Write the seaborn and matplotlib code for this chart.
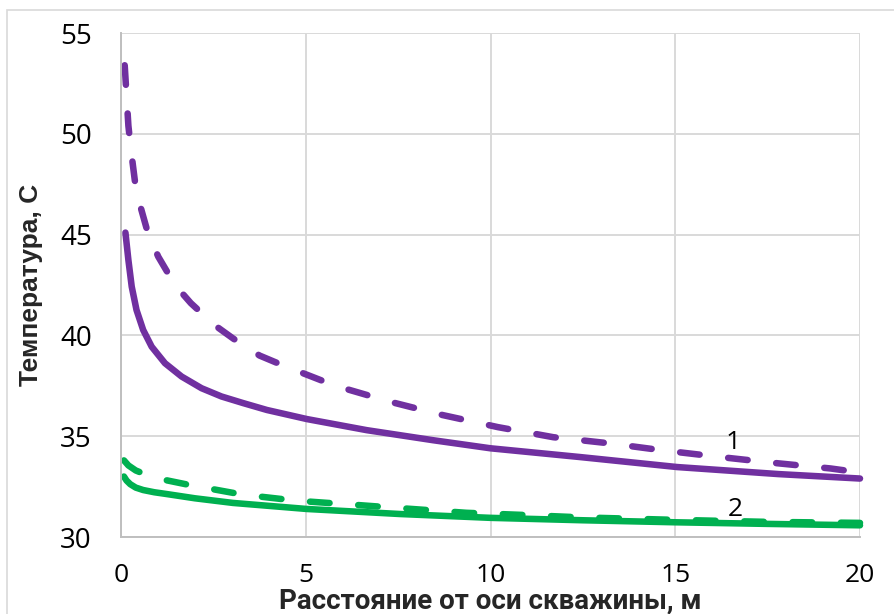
import numpy as np
import pandas as pd
import matplotlib
matplotlib.use('Agg')
import matplotlib.pyplot as plt
import seaborn as sns
from matplotlib import font_manager
from matplotlib.patches import Rectangle

# кривая 1 (фиолетовая), сплошная
x1_solid = [0.12, 0.2, 0.29, 0.42, 0.6, 0.83, 1.19, 1.64, 2.18, 2.72, 3.31, 3.95, 5.03, 6.65, 8.45, 10.0, 12.4, 15.05, 17.8, 20.0]
y1_solid = [45.1, 43.74, 42.42, 41.26, 40.27, 39.44, 38.62, 37.96, 37.38, 36.97, 36.64, 36.3, 35.85, 35.3, 34.8, 34.4, 33.97, 33.47, 33.12, 32.9]

# кривая 1, пунктир
x1_dash = [0.1, 0.15, 0.2, 0.27, 0.38, 0.51, 0.74, 1.01, 1.46, 1.89, 2.54, 3.04, 3.75, 4.4, 5.8, 7.3, 8.7, 10.2, 11.7, 13.2, 14.65, 16.2, 17.7, 19.2, 20.0]
y1_dash = [53.4, 51.9, 50.4, 49.2, 47.6, 46.5, 45.0, 43.9, 42.5, 41.6, 40.5, 39.84, 39.0, 38.5, 37.5, 36.7, 36.05, 35.45, 34.95, 34.65, 34.3, 33.97, 33.67, 33.4, 33.2]

# кривая 2 (зелёная), сплошная
x2_solid = [0.08, 0.15, 0.25, 0.4, 0.6, 0.9, 1.24, 2.0, 3.03, 5.03, 7.55, 10.0, 12.5, 15.0, 17.5, 20.0]
y2_solid = [33.0, 32.8, 32.62, 32.45, 32.33, 32.22, 32.13, 31.92, 31.69, 31.39, 31.14, 30.95, 30.83, 30.73, 30.65, 30.58]

# кривая 2, пунктир
x2_dash = [0.08, 0.2, 0.4, 0.6, 1.0, 1.8, 3.3, 4.75, 6.3, 7.8, 9.35, 10.8, 12.5, 15.0, 17.5, 20.0]
y2_dash = [33.8, 33.55, 33.3, 33.15, 32.9, 32.6, 32.1, 31.8, 31.6, 31.4, 31.2, 31.1, 30.97, 30.85, 30.75, 30.7]

curve_labels = ['1', '2']
label_x = [16.57, 16.62]
label_y = [34.71, 31.34]

xticks = [0, 5, 10, 15, 20]
yticks = [30, 35, 40, 45, 50, 55]

purple = '#7030A0'
green = '#00B050'
grid_c = '#D9D9D9'

sns.set_style('whitegrid')
names = {f.name for f in font_manager.fontManager.ttflist}
narrow = 'Liberation Sans Narrow' if 'Liberation Sans Narrow' in names else 'Roboto'
plt.rcParams['font.family'] = ['Open Sans', 'DejaVu Sans']

fig = plt.figure(figsize=(8.94, 6.14), dpi=100)
ax = fig.add_axes([121/894, 1-537/614, (860-121)/894, (537-33)/614])

lw = 4.7
dash = (0, (3.0, 4.4))
sns.lineplot(x=x1_solid, y=y1_solid, color=purple, lw=lw, ax=ax, solid_capstyle='round', solid_joinstyle='round', clip_on=False)
sns.lineplot(x=x1_dash, y=y1_dash, color=purple, lw=lw, ax=ax, linestyle=dash, dash_capstyle='round', clip_on=False)
sns.lineplot(x=x2_solid, y=y2_solid, color=green, lw=lw, ax=ax, solid_capstyle='round', solid_joinstyle='round', clip_on=False)
sns.lineplot(x=x2_dash, y=y2_dash, color=green, lw=lw, ax=ax, linestyle=dash, dash_capstyle='round', clip_on=False)

for t, xx, yy in zip(curve_labels, label_x, label_y):
    ax.text(xx, yy, t, fontsize=19, ha='center', va='center', color='black')

ax.set_xlim(0, 20)
ax.set_ylim(30, 55)
ax.set_xticks(xticks)
ax.set_yticks(yticks)
ax.tick_params(axis='both', length=0, labelsize=20, colors='black')
ax.tick_params(axis='x', pad=19, labelsize=19)
ax.tick_params(axis='y', pad=21)
ax.grid(True, color=grid_c, lw=1.4)
for s in ['top', 'right']:
    ax.spines[s].set_visible(False)
for s in ['left', 'bottom']:
    ax.spines[s].set_color('#BFBFBF')
    ax.spines[s].set_linewidth(1.4)

ax.set_xlabel('Расстояние от оси скважины, м', fontsize=20, fontweight='bold', family=[narrow, 'DejaVu Sans'])
ax.xaxis.set_label_coords(0.5, -0.1)
ax.set_ylabel('Температура, С', fontsize=19, fontweight='bold', family=['Liberation Sans', 'DejaVu Sans'])
ax.yaxis.set_label_coords(-0.1055, 0.5)

fig.patches.append(Rectangle((7/894, -0.1), 1.2, 1.1 - 10/614, transform=fig.transFigure,
                             fill=False, ec=grid_c, lw=1.2))

plt.savefig('out.png', dpi=100)
